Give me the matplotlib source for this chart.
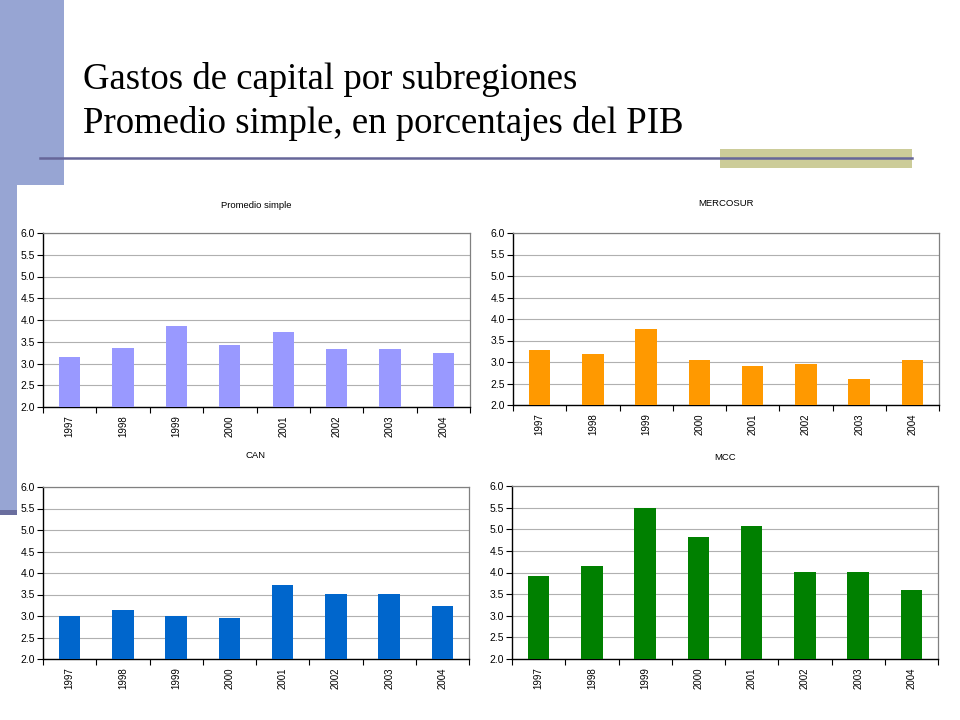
import matplotlib
matplotlib.use("Agg")
import matplotlib.pyplot as plt
from matplotlib.patches import Rectangle
from matplotlib.lines import Line2D

years = ["1997", "1998", "1999", "2000", "2001", "2002", "2003", "2004"]
promedio = [3.16, 3.36, 3.87, 3.43, 3.72, 3.34, 3.34, 3.25]
mercosur = [3.28, 3.19, 3.77, 3.05, 2.91, 2.96, 2.61, 3.05]
can = [2.99, 3.15, 3.01, 2.96, 3.71, 3.52, 3.52, 3.24]
mcc = [3.92, 4.15, 5.48, 4.82, 5.08, 4.01, 4.01, 3.59]

panel_titles = ["Promedio simple", "MERCOSUR", "CAN", "MCC"]
panel_values = [promedio, mercosur, can, mcc]
panel_colors = ["#9999FF", "#FF9900", "#0066CC", "#008000"]
yticks = [2.0, 2.5, 3.0, 3.5, 4.0, 4.5, 5.0, 5.5, 6.0]

W, H = 960, 720
fig = plt.figure(figsize=(9.6, 7.2), dpi=100)
fig.patch.set_facecolor("white")

def rect_px(x0, y0, x1, y1, color, z=0):
    fig.patches.append(Rectangle((x0 / W, 1 - y1 / H), (x1 - x0) / W, (y1 - y0) / H,
                                 transform=fig.transFigure, facecolor=color,
                                 edgecolor="none", zorder=z))

# slide decorations
rect_px(0, 0, 64, 185, "#97A5D3")
rect_px(0, 185, 17, 511, "#97A5D3")
rect_px(0, 510, 17, 515, "#6A6E9E")
rect_px(720, 149, 912, 168, "#CCCC99")
fig.lines.append(Line2D([40 / W, 912 / W], [1 - 157.5 / H, 1 - 157.5 / H],
                        transform=fig.transFigure, color="#666699", lw=1.8))

title_font = dict(family=["Liberation Serif", "DejaVu Serif"], fontsize=26.5, color="black")
fig.text(83 / W, 1 - 89 / H, "Gastos de capital por subregiones", va="baseline", ha="left", **title_font)
fig.text(83 / W, 1 - 133 / H, "Promedio simple, en porcentajes del PIB", va="baseline", ha="left", **title_font)

# axes positions in pixels: (left, top, right, bottom)
boxes = [(43, 233, 470, 407), (513, 233, 939, 405), (43, 487, 469, 659), (512, 486, 938, 659)]
title_y = [205, 204, 455, 457]

ylab_font = dict(family=["Liberation Sans", "DejaVu Sans"], fontsize=7.5)
xlab_font = dict(family=["Liberation Sans", "DejaVu Sans"], fontsize=7)

for (l, t, r, b), ttl, vals, col, ty in zip(boxes, panel_titles, panel_values, panel_colors, title_y):
    ax = fig.add_axes([l / W, 1 - b / H, (r - l) / W, (b - t) / H])
    x = list(range(len(years)))
    ax.bar(x, vals, width=0.4, color=col, zorder=3)
    ax.set_xlim(-0.5, len(years) - 0.5)
    ax.set_ylim(2.0, 6.0)
    ax.set_yticks(yticks)
    ax.set_yticklabels([f"{v:.1f}" for v in yticks], **ylab_font)
    ax.set_xticks(x)
    ax.set_xticklabels(years, rotation=90, **xlab_font)
    ax.set_xticks([i - 0.5 for i in range(len(years) + 1)], minor=True)
    ax.tick_params(axis="x", which="major", length=0, pad=6)
    ax.tick_params(axis="x", which="minor", length=4, width=0.8, direction="out", color="black")
    ax.tick_params(axis="y", which="major", length=4, width=0.8, direction="out", pad=2, color="black")
    ax.grid(axis="y", color="#B0B0B0", lw=0.8, zorder=0)
    ax.set_axisbelow(True)
    ax.spines["left"].set_color("black")
    ax.spines["bottom"].set_color("black")
    ax.spines["left"].set_linewidth(1.0)
    ax.spines["bottom"].set_linewidth(1.0)
    ax.spines["top"].set_color("#808080")
    ax.spines["right"].set_color("#808080")
    ax.spines["top"].set_linewidth(0.9)
    ax.spines["right"].set_linewidth(0.9)
    fig.text((l + r) / 2 / W, 1 - ty / H, ttl, ha="center", va="center",
             family=["Liberation Sans", "DejaVu Sans"], fontsize=6.8)

fig.savefig("out.png", dpi=100)
